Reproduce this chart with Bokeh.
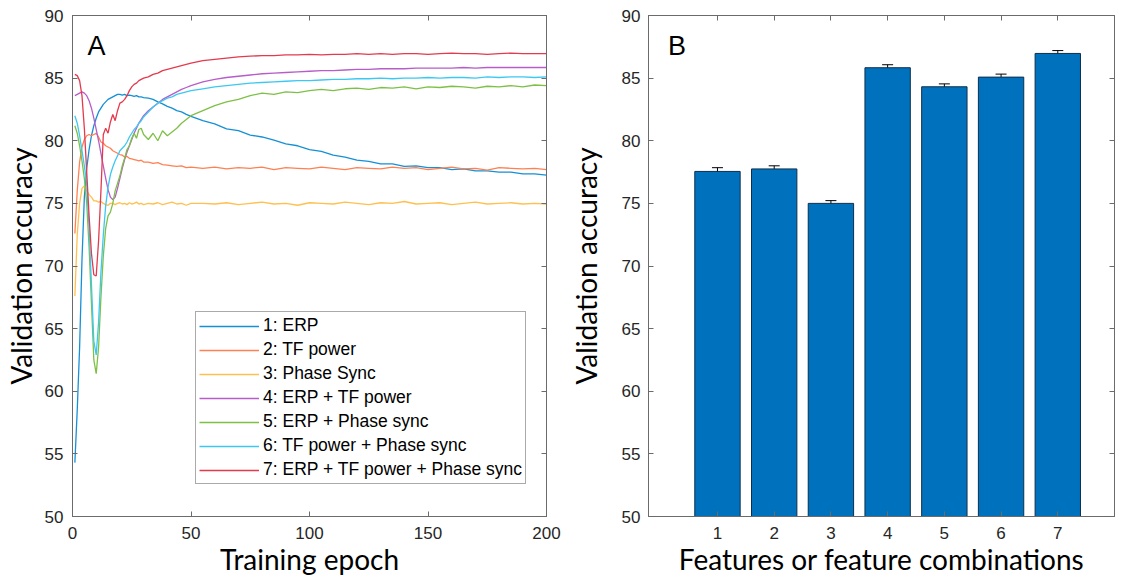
from bokeh.plotting import figure
from bokeh.layouts import row
from bokeh.models import (ColumnDataSource, Whisker, TeeHead, Legend, LegendItem,
                          LinearAxis, Label, FixedTicker, Range1d)
from bokeh.embed import file_html
from bokeh.resources import INLINE

# ---------------- data: panel A ----------------
epochs = [1, 2, 3, 4, 5, 6, 7, 8, 9, 10, 11, 12, 13, 14, 15, 16, 17, 18, 19, 20,
          21, 22, 23, 24, 25, 26, 27, 28, 29, 30,
          32, 34, 36, 38, 40, 42, 44, 46, 48, 50,
          55, 60, 65, 70, 75, 80, 85, 90, 95, 100, 105, 110, 115, 120, 125,
          130, 135, 140, 145, 150, 155, 160, 165, 170, 175, 180, 185, 190, 195, 200]

erp = [54.3, 58.5, 63.5, 70.5, 75.5, 77.8, 79.3, 80.4, 81.2, 81.8, 82.3, 82.6, 82.9, 83.1, 83.3,
       83.4, 83.5, 83.6, 83.7, 83.7, 83.65, 83.7, 83.6, 83.65, 83.6, 83.55, 83.6, 83.5, 83.5, 83.45,
       83.4, 83.3, 83.1, 82.95, 82.75, 82.6, 82.4, 82.3, 82.1, 81.95,
       81.6, 81.35, 80.95, 80.8, 80.45, 80.3, 80.05, 79.75, 79.6, 79.3, 79.15, 78.85, 78.7, 78.45, 78.35,
       78.15, 78.15, 77.95, 78.0, 77.85, 77.85, 77.7, 77.75, 77.6, 77.6, 77.5, 77.5, 77.35, 77.35, 77.25]

tf_power = [72.6, 76.0, 78.3, 79.5, 80.1, 80.4, 80.5, 80.4, 80.5, 80.6, 80.3, 79.9, 79.8, 79.6, 79.5,
            79.4, 79.2, 79.1, 79.0, 78.9, 78.85, 78.7, 78.75, 78.6, 78.55, 78.5, 78.45, 78.4, 78.45, 78.3,
            78.3, 78.2, 78.25, 78.1, 78.05, 78.0, 77.95, 78.0, 77.85, 77.9,
            77.8, 77.9, 77.75, 77.85, 77.8, 77.9, 77.7, 77.85, 77.8, 77.75, 77.9, 77.8, 77.7, 77.85, 77.8,
            77.75, 77.9, 77.8, 77.85, 77.7, 77.8, 77.9, 77.75, 77.8, 77.65, 77.85, 77.8, 77.75, 77.8, 77.7]

phase_sync = [67.6, 72.5, 75.0, 76.2, 76.4, 76.0, 75.7, 75.5, 75.2, 75.2, 75.1, 75.15, 75.0, 74.9, 74.85,
              75.0, 75.0, 74.9, 75.0, 75.05, 74.95, 75.0, 74.9, 75.05, 74.95, 75.0, 75.1, 74.95, 75.0, 74.9,
              75.0, 74.95, 75.05, 74.9, 75.0, 75.1, 74.95, 75.0, 74.85, 75.0,
              75.0, 74.95, 75.05, 74.9, 75.0, 75.1, 74.95, 75.0, 74.85, 75.05, 75.0, 74.95, 75.1, 75.0, 74.9,
              75.05, 75.0, 75.15, 74.95, 75.0, 75.05, 74.9, 75.0, 75.1, 74.95, 75.0, 75.05, 74.95, 75.0, 74.95]

erp_tf = [83.6, 83.7, 83.8, 83.9, 83.8, 83.6, 83.2, 82.6, 81.8, 80.9, 80.0, 79.0, 78.0, 77.0, 76.1,
          75.5, 75.3, 75.5, 76.2, 77.0, 77.8, 78.5, 79.1, 79.6, 80.1, 80.6, 81.0, 81.4, 81.7, 82.0,
          82.4, 82.7, 83.0, 83.3, 83.5, 83.7, 83.9, 84.1, 84.25, 84.4,
          84.7, 84.9, 85.05, 85.15, 85.25, 85.35, 85.4, 85.45, 85.5, 85.55, 85.6, 85.6, 85.65, 85.7, 85.7,
          85.75, 85.75, 85.75, 85.8, 85.8, 85.8, 85.8, 85.85, 85.8, 85.85, 85.85, 85.85, 85.85, 85.85, 85.85]

erp_phase = [81.2, 80.6, 79.6, 78.4, 77.0, 75.0, 71.5, 67.0, 62.5, 61.4, 63.5, 67.5, 70.8, 73.0, 74.0,
             74.3, 75.0, 76.0, 76.6, 77.2, 78.0, 78.6, 79.3, 79.6, 80.2, 80.6, 80.2, 80.9, 81.0, 80.5,
             80.1, 80.6, 80.0, 80.8, 80.4, 80.7, 81.0, 81.4, 81.7, 82.0,
             82.4, 82.8, 83.1, 83.3, 83.6, 83.8, 83.7, 83.9, 83.85, 84.0, 84.1, 84.0, 84.15, 84.2, 84.1,
             84.25, 84.2, 84.3, 84.15, 84.3, 84.25, 84.35, 84.3, 84.2, 84.35, 84.3, 84.4, 84.3, 84.45, 84.4]

tf_phase = [82.0, 81.4, 80.4, 79.2, 78.0, 76.5, 73.0, 68.5, 64.0, 62.9, 65.5, 69.5, 72.5, 74.8, 76.3,
            77.3, 77.9, 78.4, 78.8, 79.2, 79.4, 79.6, 79.9, 80.3, 80.6, 80.9, 81.1, 81.4, 81.6, 81.9,
            82.3, 82.7, 83.0, 83.2, 83.4, 83.5, 83.7, 83.8, 83.9, 84.0,
            84.15, 84.3, 84.4, 84.5, 84.6, 84.65, 84.7, 84.75, 84.8, 84.8, 84.85, 84.9, 84.9, 84.95, 84.95,
            85.0, 84.95, 85.0, 85.0, 85.05, 85.0, 85.05, 85.05, 85.0, 85.1, 85.05, 85.1, 85.1, 85.05, 85.1]

erp_tf_phase = [85.3, 85.2, 84.8, 83.6, 81.0, 77.5, 74.0, 71.0, 69.3, 69.2, 72.0, 76.0, 80.5, 81.0, 80.6,
                81.5, 82.1, 81.6, 82.4, 83.0, 83.1, 83.3, 83.6, 84.0, 84.3, 84.5, 84.6, 84.8, 84.9, 85.0,
                85.1, 85.3, 85.4, 85.6, 85.7, 85.8, 85.9, 86.0, 86.1, 86.2,
                86.4, 86.5, 86.6, 86.7, 86.75, 86.8, 86.8, 86.85, 86.85, 86.9, 86.85, 86.9, 86.9, 86.95, 86.9,
                86.95, 86.9, 86.95, 86.95, 86.9, 86.95, 87.0, 86.95, 86.95, 86.9, 86.95, 87.0, 86.95, 86.95, 86.95]

series_labels = ["1: ERP", "2: TF power", "3: Phase Sync", "4: ERP + TF power",
                 "5: ERP + Phase sync", "6: TF power + Phase sync", "7: ERP + TF power + Phase sync"]
series_colors = ["#1590D6", "#FF8052", "#FFC04F", "#B65DC8", "#7EC046", "#3CC8F2", "#E43A4E"]

# ---------------- data: panel B ----------------
combos = [1, 2, 3, 4, 5, 6, 7]
mean_acc = [77.55, 77.75, 75.0, 85.83, 84.31, 85.08, 86.97]
err_acc = [0.3, 0.25, 0.22, 0.24, 0.23, 0.24, 0.23]

y_ticks = [50, 55, 60, 65, 70, 75, 80, 85, 90]
x_ticks_a = [0, 50, 100, 150, 200]

AXIS_GREY = "#6b6b6b"
TICK_TXT = "#262626"
FIG_H = 579


def style_axis(ax):
    ax.axis_line_color = AXIS_GREY
    ax.axis_line_width = 1
    ax.major_tick_line_color = AXIS_GREY
    ax.major_tick_in = 5
    ax.major_tick_out = 0
    ax.minor_tick_line_color = None
    ax.major_label_text_font = "Liberation Sans"
    ax.major_label_text_font_size = "17px"
    ax.major_label_text_color = TICK_TXT
    ax.axis_label_text_font = "Lato"
    ax.axis_label_text_font_size = "28px"
    ax.axis_label_text_font_style = "normal"
    ax.axis_label_text_color = "#000000"


def add_mirror_axes(p, xticks, yticks):
    # box-style tick marks on the top and right edges (no labels)
    top = LinearAxis(ticker=FixedTicker(ticks=xticks))
    right = LinearAxis(ticker=FixedTicker(ticks=yticks))
    for ax in (top, right):
        style_axis(ax)
        ax.major_label_text_font_size = "1px"
        ax.major_label_text_color = None
        ax.major_label_standoff = 0
    p.add_layout(top, "above")
    p.add_layout(right, "right")


def style_bottom(ax):
    ax.major_label_standoff = 10
    ax.axis_label_standoff = 0


# ---------------- panel A ----------------
p1 = figure(width=565, height=FIG_H, x_range=Range1d(0, 200), y_range=Range1d(50, 90),
            output_backend="svg", toolbar_location=None,
            min_border_left=71, min_border_right=19, min_border_top=15, min_border_bottom=63)
p1.grid.visible = False
p1.outline_line_color = AXIS_GREY
p1.xaxis.ticker = FixedTicker(ticks=x_ticks_a)
p1.yaxis.ticker = FixedTicker(ticks=y_ticks)
p1.xaxis.axis_label = "Training epoch"
p1.yaxis.axis_label = "Validation accuracy"
for ax in p1.xaxis + p1.yaxis:
    style_axis(ax)
style_bottom(p1.xaxis[0])
p1.yaxis.major_label_standoff = 9
p1.yaxis.axis_label_standoff = 4
add_mirror_axes(p1, x_ticks_a, y_ticks)

all_series = [erp, tf_power, phase_sync, erp_tf, erp_phase, tf_phase, erp_tf_phase]
items = []
for vals, lab, col in zip(all_series, series_labels, series_colors):
    r = p1.line(epochs, vals, line_color=col, line_width=1.3)
    items.append(LegendItem(label=lab, renderers=[r]))

legend = Legend(items=items, location=(123, 32))
legend.margin = 0
legend.padding = 3
legend.spacing = 3
legend.glyph_width = 60
legend.glyph_height = 20
legend.label_height = 20
legend.label_standoff = 4
legend.label_text_font = "Liberation Sans"
legend.label_text_font_size = "17.5px"
legend.label_text_color = "#000000"
legend.border_line_color = "#555555"
legend.border_line_width = 1
legend.background_fill_color = "white"
legend.background_fill_alpha = 1
p1.add_layout(legend)

p1.add_layout(Label(x=6.3, y=87.6, text="A", text_font="Liberation Sans",
                    text_font_size="27px", text_color="#000000",
                    text_align="left", text_baseline="alphabetic"))

# ---------------- panel B ----------------
src = ColumnDataSource(dict(x=combos, top=mean_acc,
                            upper=[m + e for m, e in zip(mean_acc, err_acc)],
                            lower=[m - e for m, e in zip(mean_acc, err_acc)]))

p2 = figure(width=550, height=FIG_H, x_range=Range1d(-0.216, 8.0), y_range=Range1d(50, 90),
            output_backend="svg", toolbar_location=None,
            min_border_left=83, min_border_right=1, min_border_top=15, min_border_bottom=63)
p2.grid.visible = False
p2.outline_line_color = AXIS_GREY
p2.xaxis.ticker = FixedTicker(ticks=combos)
p2.yaxis.ticker = FixedTicker(ticks=y_ticks)
p2.xaxis.axis_label = "Features or feature combinations"
p2.yaxis.axis_label = "Validation accuracy"
for ax in p2.xaxis + p2.yaxis:
    style_axis(ax)
style_bottom(p2.xaxis[0])
p2.yaxis.major_label_standoff = 8
p2.yaxis.axis_label_standoff = 16
add_mirror_axes(p2, combos, y_ticks)

p2.vbar(x="x", top="top", bottom=50, width=0.8, source=src,
        fill_color="#0072BD", line_color="#0d2f4d", line_width=1)
p2.add_layout(Whisker(source=src, base="x", upper="upper", lower="lower",
                      line_color="#000000", line_width=1,
                      upper_head=TeeHead(size=11, line_color="#000000", line_width=1),
                      lower_head=TeeHead(size=11, line_color="#000000", line_width=1)))

p2.add_layout(Label(x=0.13, y=87.6, text="B", text_font="Liberation Sans",
                    text_font_size="27px", text_color="#000000",
                    text_align="left", text_baseline="alphabetic"))

layout = row(p1, p2)
open("out.html", "w").write(file_html(layout, INLINE))
